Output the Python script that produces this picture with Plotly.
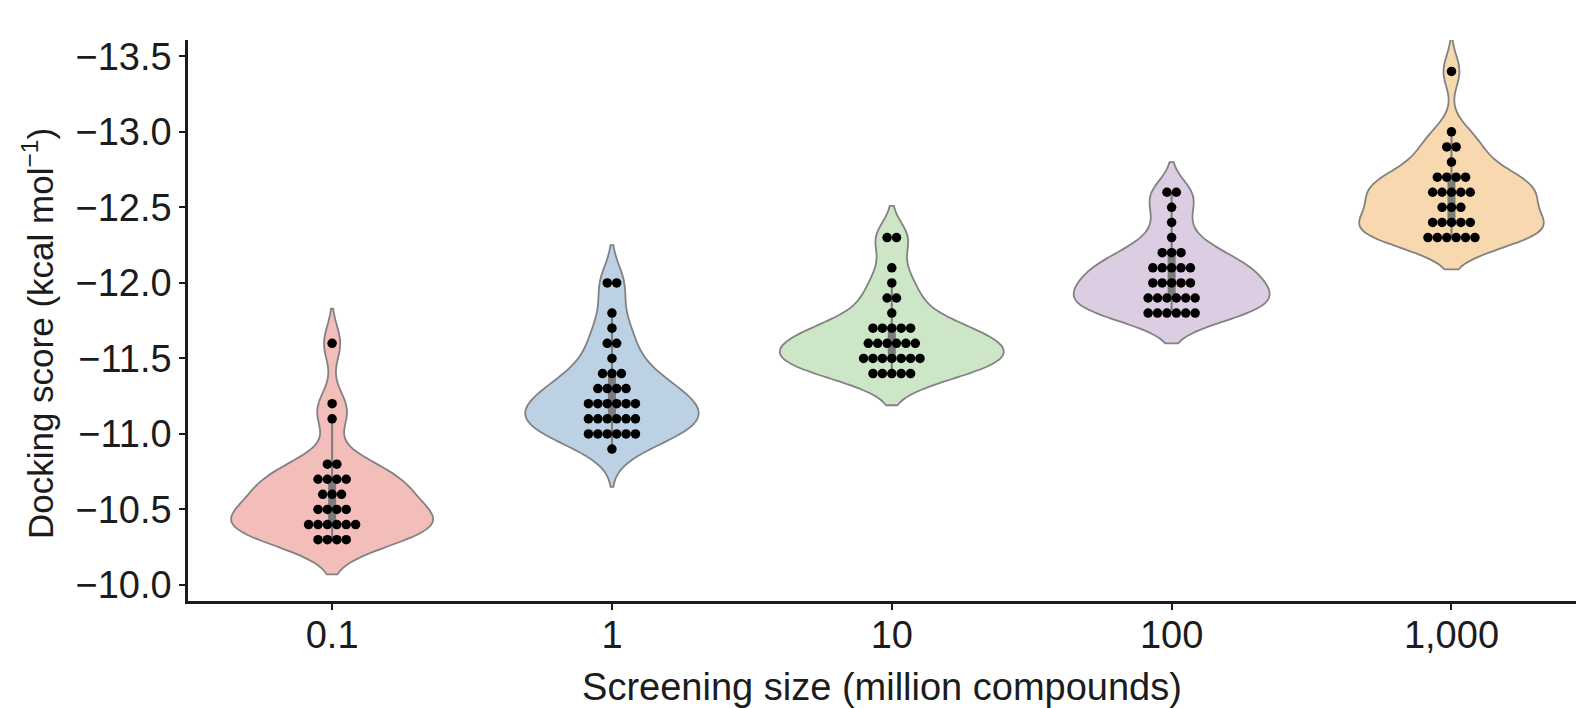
import plotly.graph_objects as go
import numpy as np

categories = ["0.1", "1", "10", "100", "1,000"]

scores_0_1 = [-11.6, -11.2, -11.1, -10.8, -10.8, -10.7, -10.7, -10.7, -10.7,
              -10.6, -10.6, -10.6, -10.5, -10.5, -10.5, -10.5,
              -10.4, -10.4, -10.4, -10.4, -10.4, -10.4,
              -10.3, -10.3, -10.3, -10.3]
scores_1 = [-12.0, -12.0, -11.8, -11.7, -11.6, -11.6, -11.5,
            -11.4, -11.4, -11.4, -11.3, -11.3, -11.3, -11.3,
            -11.2, -11.2, -11.2, -11.2, -11.2, -11.2,
            -11.1, -11.1, -11.1, -11.1, -11.1, -11.1,
            -11.0, -11.0, -11.0, -11.0, -11.0, -11.0, -10.9]
scores_10 = [-12.3, -12.3, -12.1, -12.0, -11.9, -11.9, -11.8,
             -11.7, -11.7, -11.7, -11.7, -11.7,
             -11.6, -11.6, -11.6, -11.6, -11.6, -11.6,
             -11.5, -11.5, -11.5, -11.5, -11.5, -11.5, -11.5,
             -11.4, -11.4, -11.4, -11.4, -11.4]
scores_100 = [-12.6, -12.6, -12.5, -12.4, -12.3, -12.2, -12.2, -12.2,
              -12.1, -12.1, -12.1, -12.1, -12.1,
              -12.0, -12.0, -12.0, -12.0, -12.0,
              -11.9, -11.9, -11.9, -11.9, -11.9, -11.9,
              -11.8, -11.8, -11.8, -11.8, -11.8, -11.8]
scores_1000 = [-13.4, -13.0, -12.9, -12.9, -12.8,
               -12.7, -12.7, -12.7, -12.7,
               -12.6, -12.6, -12.6, -12.6, -12.6,
               -12.5, -12.5, -12.5,
               -12.4, -12.4, -12.4, -12.4, -12.4,
               -12.3, -12.3, -12.3, -12.3, -12.3, -12.3]

groups = [scores_0_1, scores_1, scores_10, scores_100, scores_1000]

y_tickvals = [-13.5, -13.0, -12.5, -12.0, -11.5, -11.0, -10.5, -10.0]
y_ticktext = ["\u221213.5", "\u221213.0", "\u221212.5", "\u221212.0",
              "\u221211.5", "\u221211.0", "\u221210.5", "\u221210.0"]

x_title = "Screening size (million compounds)"
y_title = "Docking score (kcal mol<sup>\u22121</sup>)"

# styles
fill_colors = ["#f3bdb9", "#bcd1e4", "#cde6c7", "#dccde3", "#f8d8ae"]
violin_widths = [0.72, 0.62, 0.80, 0.70, 0.66]
bandwidths = [0.115, 0.125, 0.105, 0.10, 0.105]
PX_PER_CAT = 279.8
DOT_PX = 9.4
FONT = "Liberation Sans, Arial, Helvetica, sans-serif"
INK = "#1c1c1c"

fig = go.Figure()

for i, vals in enumerate(groups):
    w = violin_widths[i]
    fig.add_trace(go.Violin(
        x=[i] * len(vals), y=vals,
        width=w, scalemode="width", spanmode="soft", bandwidth=bandwidths[i],
        fillcolor=fill_colors[i], opacity=1,
        line=dict(color="#828282", width=1.8),
        points=False,
        box=dict(visible=True, width=6.0 / (w * PX_PER_CAT),
                 fillcolor="#7b7b7b", line=dict(color="#7b7b7b", width=2)),
        meanline=dict(visible=False),
        showlegend=False, hoverinfo="skip",
    ))

# swarm-like layout of points: each value row centred on the category
d = DOT_PX / PX_PER_CAT
for i, vals in enumerate(groups):
    xs, ys = [], []
    arr = np.array(vals)
    for v in sorted(set(vals)):
        n = int(np.sum(np.isclose(arr, v)))
        for k in range(n):
            xs.append(i + (k - (n - 1) / 2.0) * d)
            ys.append(v)
    fig.add_trace(go.Scatter(
        x=xs, y=ys, mode="markers",
        marker=dict(color="black", size=9.5, line=dict(width=0)),
        showlegend=False, hoverinfo="skip",
    ))

axis_common = dict(
    showline=True, linecolor=INK, linewidth=2.5,
    ticks="outside", ticklen=6, tickwidth=1.6, tickcolor=INK,
    showgrid=False, zeroline=False,
    tickfont=dict(family=FONT, size=38, color=INK),
)

fig.update_layout(
    width=1576, height=708,
    margin=dict(l=188, r=0, t=40, b=107),
    paper_bgcolor="white", plot_bgcolor="white",
    violinmode="overlay",
    font=dict(family=FONT, color=INK),
    xaxis=dict(
        range=[-0.515, 4.445], tickmode="array",
        tickvals=list(range(len(categories))), ticktext=categories,
        ticklabelstandoff=-7,
        title=dict(text=x_title,
                   font=dict(family=FONT, size=38, color=INK), standoff=20),
        **axis_common,
    ),
    yaxis=dict(
        range=[-9.894, -13.608], tickmode="array",
        tickvals=y_tickvals, ticktext=y_ticktext,
        **axis_common,
    ),
    annotations=[dict(
        text=y_title, textangle=-90, showarrow=False,
        xref="paper", yref="paper", x=-0.108, y=0.476,
        xanchor="center", yanchor="middle",
        font=dict(family=FONT, size=35, color=INK),
    )],
)

fig.write_html("out.html")
